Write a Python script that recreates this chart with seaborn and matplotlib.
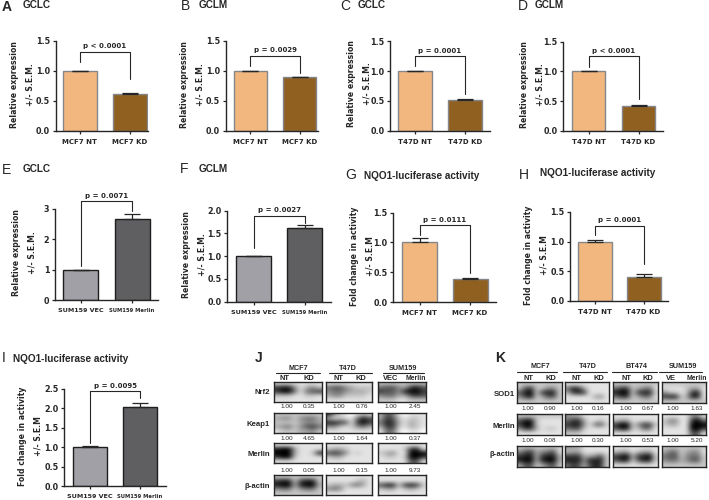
import matplotlib
matplotlib.use("Agg")
import matplotlib.pyplot as plt
import numpy as np
import pandas as pd
import seaborn as sns

W, H = 709, 500

peach = "#F2B77E"
brown = "#8F6020"
light_grey = "#A0A0A6"
dark_grey = "#5F5F62"

# bar panels: categories, means, upper error, p text, bracket (left foot, top, right foot)
mcf7 = ["MCF7 NT", "MCF7 KD"]
t47d = ["T47D NT", "T47D KD"]
sum159 = ["SUM159 VEC", "SUM159 Merlin"]

a_vals, a_err = [1.0, 0.61], [1.0, 0.62]
b_vals, b_err = [1.0, 0.89], [1.0, 0.90]
c_vals, c_err = [1.0, 0.52], [1.0, 0.535]
d_vals, d_err = [1.0, 0.42], [1.0, 0.43]
e_vals, e_err = [1.0, 2.68], [1.0, 2.835]
f_vals, f_err = [1.0, 1.63], [1.0, 1.68]
g_vals, g_err = [1.0, 0.39], [1.07, 0.40]
h_vals, h_err = [1.0, 0.41], [1.03, 0.46]
i_vals, i_err = [1.0, 2.04], [1.02, 2.14]

a_br, b_br, c_br = [1.14, 1.317, 0.86], [1.08, 1.25, 0.97], [1.08, 1.25, 0.61]
d_br, e_br, f_br = [1.08, 1.26, 0.54], [1.13, 3.25, 2.92], [1.19, 1.89, 1.74]
g_br, h_br, i_br = [1.125, 1.287, 0.48], [1.117, 1.27, 0.626], [1.116, 2.45, 2.27]

expr = "Relative expression\n+/- S.E.M."
fold = "Fold change in activity\n+/- S.E.M"

# left spine, right end, y top, y zero, bar1 l/r, bar2 l/r, ylabel x/y
panels = [
    (a_vals, a_err, a_br, mcf7, "p < 0.0001", expr, 1.5, (55.7, 148, 40.7, 130.7, 63, 97, 113, 146, 22, 85)),
    (b_vals, b_err, b_br, mcf7, "p = 0.0029", expr, 1.5, (225.7, 318, 40.7, 130.7, 234, 267, 283, 316, 192, 85)),
    (c_vals, c_err, c_br, t47d, "p = 0.0001", expr, 1.5, (390, 490, 41, 131, 398, 432, 448, 482, 359, 84)),
    (d_vals, d_err, d_br, t47d, "p < 0.0001", expr, 1.5, (563, 663, 41.7, 131, 572, 605, 622, 655, 532, 85)),
    (e_vals, e_err, e_br, sum159, "p = 0.0071", expr, 3, (55, 158, 209, 300, 63, 98, 115, 149, 24, 253)),
    (f_vals, f_err, f_br, sum159, "p = 0.0027", expr, 2.0, (227, 331, 210.7, 301.7, 236, 271, 287, 322, 194, 255)),
    (g_vals, g_err, g_br, mcf7, "p = 0.0111", fold, 1.5, (393, 496, 212.7, 302, 402, 437, 453, 487, 362, 256)),
    (h_vals, h_err, h_br, t47d, "p = 0.0001", fold, 1.5, (570, 668, 212, 301, 578, 612, 627, 660, 536, 255)),
    (i_vals, i_err, i_br, sum159, "p = 0.0095", fold, 2.5, (64, 166, 389, 486, 73, 107, 123, 157, 30, 436)),
]

yticks = {
    1.5: [0.0, 0.5, 1.0, 1.5],
    2.0: [0.0, 0.5, 1.0, 1.5, 2.0],
    2.5: [0.0, 0.5, 1.0, 1.5, 2.0, 2.5],
    3: [0, 1, 2, 3],
}

panel_titles = [
    ("A", 2, 7, "GCLC", 23, 5), ("B", 181, 6, "GCLM", 199, 5),
    ("C", 340, 6, "GCLC", 358, 5), ("D", 518, 6, "GCLM", 535, 5),
    ("E", 2, 170, "GCLC", 23, 169), ("F", 180, 169, "GCLM", 199, 169),
    ("G", 345, 175, "NQO1-luciferase activity", 364, 176),
    ("H", 519, 175, "NQO1-luciferase activity", 540, 173),
    ("I", 2, 358, "NQO1-luciferase activity", 13, 359),
    ("J", 255, 358, "", 0, 0), ("K", 495, 358, "", 0, 0),
]

# blots: band darkness per cell, 0 blank to 9 black
j_blots = [
    [["11111111", "78841342", "79951567", "22211221", "11111111"],
     ["11111111", "56643222", "45543332", "34422221", "11111111"],
     ["22222222", "56643786", "76648997", "45533676", "22211222"]],
    [["22222222", "34424553", "22223443", "34524675", "12223342"],
     ["84210121", "31211586", "88761797", "44212453", "11111111"],
     ["36510111", "37621221", "58731321", "37721321", "15510110"]],
    [["11111111", "89931111", "99931128", "79921111", "11111111"],
     ["11111111", "23321111", "67641211", "23311111", "11111111"],
     ["11111111", "11112781", "23411999", "12212997", "11111661"]],
    [["22222222", "78827882", "89938993", "45524552", "22222222"],
     ["11111111", "11111231", "23324531", "45411111", "11111111"],
     ["11111111", "11111111", "68827872", "23312321", "11111111"]],
]
k_blots = [
    [["22222222", "26722442", "68927882", "47823662", "22222222"],
     ["11111111", "58731111", "37871111", "11111341", "11111111"],
     ["22222222", "57723451", "89927882", "57723551", "22222222"],
     ["22222222", "11112331", "42212781", "78823881", "22222222"]],
    [["22222222", "68821111", "79921111", "47731221", "11111111"],
     ["43311111", "57731121", "78841562", "56621111", "22211111"],
     ["11111111", "23311111", "79924772", "68822551", "11111111"],
     ["11111441", "24411795", "23311999", "11111997", "11111661"]],
    [["22222222", "46734561", "78837883", "89938993", "36623562"],
     ["43311111", "23311111", "77733462", "88848882", "57636872"],
     ["11111111", "23312331", "78937892", "68826882", "11111111"],
     ["22222222", "35523441", "56624552", "45534662", "22222222"]],
]

j_cols = [(274, 322), (326, 372), (378, 426)]
j_rows = [(382, 402), (413, 433), (443, 463), (475, 495)]
k_cols = [(517, 562), (565, 609), (613, 658), (662, 706)]
k_rows = [(382, 403), (414, 435), (446, 467)]

j_numbers = [
    ["1.00", "0.35", "1.00", "0.76", "1.00", "2.45"],
    ["1.00", "4.65", "1.00", "1.64", "1.00", "0.37"],
    ["1.00", "0.05", "1.00", "0.15", "1.00", "9.73"],
]
j_num_x = [287, 309, 339, 362, 391, 415]
j_num_y = [407, 439, 470]
k_numbers = [
    ["1.00", "0.90", "1.00", "0.16", "1.00", "0.67", "1.00", "1.63"],
    ["1.00", "0.08", "1.00", "0.30", "1.00", "0.53", "1.00", "5.20"],
]
k_num_x = [528, 550, 577, 598, 626, 648, 673, 697]
k_num_y = [408, 441]

j_heads = [("MCF7", 298, 276, 320), ("T47D", 348, 329, 372), ("SUM159", 403, 383, 424)]
k_heads = [("MCF7", 540, 517, 557), ("T47D", 588, 563, 607), ("BT474", 636, 612, 657), ("SUM159", 683, 659, 702)]
j_lanes = [("NT", 285), ("KD", 309), ("NT", 339), ("KD", 361), ("VEC", 391), ("Merlin", 416)]
k_lanes = [("NT", 529), ("KD", 551), ("NT", 577), ("KD", 599), ("NT", 627), ("KD", 648), ("VE", 671), ("Merlin", 697)]
j_names = [("Nrf2", 393), ("Keap1", 425), ("Merlin", 455), ("β-actin", 487)]
k_names = [("SOD1", 394), ("Merlin", 426), ("β-actin", 455)]

sns.set_theme(style="ticks")
plt.rcParams["font.family"] = ["DejaVu Sans"]
arial = "Liberation Sans"
ink = "#262626"

fig = plt.figure(figsize=(W / 100, H / 100), dpi=100, facecolor="white")


def px_axes(x0, x1, ytop, ybot):
    return fig.add_axes([x0 / W, 1 - ybot / H, (x1 - x0) / W, (ybot - ytop) / H])


def px_text(x, y, s, **kw):
    kw.setdefault("color", ink)
    kw.setdefault("va", "center")
    fig.text(x / W, 1 - y / H, s, **kw)


def draw_bars(vals, err, br, cats, ptext, ylab, ymax, box):
    x0, x1, ytop, ybot, l1, r1, l2, r2, lab_x, lab_y = box
    ax = px_axes(x0, x1, ytop, ybot)
    df = pd.DataFrame({"group": cats, "value": vals})
    step = (l2 + r2 - l1 - r1) / 2
    c1 = (l1 + r1) / 2
    c2 = (l2 + r2) / 2
    colors = [peach, brown] if cats is not sum159 else [light_grey, dark_grey]
    edge = "#85858C" if cats is not sum159 else "#1E1E1E"
    sns.barplot(data=df, x="group", y="value", hue="group", palette=colors, legend=False, saturation=1,
                width=(r1 - l1) / step, edgecolor=edge, linewidth=1.0, errorbar=None, ax=ax)
    ax.errorbar([0, 1], vals, yerr=[[0, 0], np.array(err) - np.array(vals)], fmt="none",
                ecolor=ink, elinewidth=0.9, capsize=5.5, capthick=0.9)
    ax.set_xlim(-(c1 - x0) / step, 1 + (x1 - c2) / step)
    ax.set_ylim(0, ymax)
    ticks = yticks[ymax]
    ax.set_yticks(ticks)
    ax.set_yticklabels([str(t) for t in ticks], fontsize=5.8, fontweight="bold", color=ink)
    ax.set_xticks([0, 1])
    ax.set_xticklabels(cats, fontweight="bold", color=ink)
    for lab, c in zip(ax.get_xticklabels(), cats):
        lab.set_fontsize(5.0 if len(c) < 8 else (4.6 if len(c) < 11 else 3.8))
    ax.tick_params(axis="both", length=2.5, width=0.9, color=ink, pad=1.5)
    ax.tick_params(axis="x", pad=3.5)
    ax.set_xlabel("")
    ax.set_ylabel(ylab, fontsize=5.6, fontweight="bold", color=ink, linespacing=1.9, va="center")
    ax.yaxis.set_label_coords((lab_x - x0) / (x1 - x0), (ybot - lab_y) / (ybot - ytop))
    sns.despine(ax=ax)
    for s in ["left", "bottom"]:
        ax.spines[s].set_linewidth(1.0)
        ax.spines[s].set_color(ink)
    ax.plot([0, 0, 1, 1], [br[0], br[1], br[1], br[2]], color=ink, lw=0.8, clip_on=False)
    ax.annotate(ptext, (0.5, br[1]), xytext=(0, 1.6), textcoords="offset points", ha="center",
                va="bottom", fontsize=5.0, fontweight="bold", color=ink, annotation_clip=False)


def draw_blot(rows, x0, x1, ytop, ybot):
    ax = px_axes(x0, x1, ytop, ybot)
    grid = np.array([[int(c) for c in r] for r in rows])
    ax.imshow(grid, cmap="gray_r", vmin=0, vmax=9, aspect="auto", interpolation="bicubic")
    ax.set_xticks([])
    ax.set_yticks([])
    for s in ax.spines.values():
        s.set_linewidth(1.0)
        s.set_color(ink)


for p in panels:
    draw_bars(*p)

for letter, lx, ly, title, tx, ty in panel_titles:
    px_text(lx, ly, letter, fontsize=10, family=arial, fontweight="bold" if letter in "AJK" else "normal")
    if title:
        px_text(tx, ty, title, fontsize=7.2, fontweight="bold", family=arial)

for r, row in zip(j_rows, j_blots):
    for c, rows in zip(j_cols, row):
        draw_blot(rows, c[0], c[1], r[0], r[1])
for r, row in zip(k_rows, k_blots):
    for c, rows in zip(k_cols, row):
        draw_blot(rows, c[0], c[1], r[0], r[1])

for nums, y in zip(j_numbers, j_num_y):
    for n, x in zip(nums, j_num_x):
        px_text(x, y, n, fontsize=4.6, ha="center", family=arial)
for nums, y in zip(k_numbers, k_num_y):
    for n, x in zip(nums, k_num_x):
        px_text(x, y, n, fontsize=4.6, ha="center", family=arial)

overlay = fig.add_axes([0, 0, 1, 1], facecolor="none")
overlay.set_xlim(0, W)
overlay.set_ylim(H, 0)
overlay.axis("off")

for heads, head_y, line_y in [(j_heads, 368, 373), (k_heads, 367, 372)]:
    for name, cx, lx0, lx1 in heads:
        px_text(cx, head_y, name, fontsize=5.2, fontweight="bold", ha="center", family=arial)
        overlay.plot([lx0, lx1], [line_y, line_y], color=ink, lw=0.8)
for lanes in [j_lanes, k_lanes]:
    for name, x in lanes:
        px_text(x, 378, name, fontsize=5.4 if name != "Merlin" else 4.9, fontweight="bold", ha="center", family=arial)
for name, y in j_names:
    px_text(270, y, name, fontsize=5.6, fontweight="bold", ha="right", family=arial)
for name, y in k_names:
    px_text(515, y, name, fontsize=5.6, fontweight="bold", ha="right", family=arial)

fig.savefig("out.png", dpi=100)
